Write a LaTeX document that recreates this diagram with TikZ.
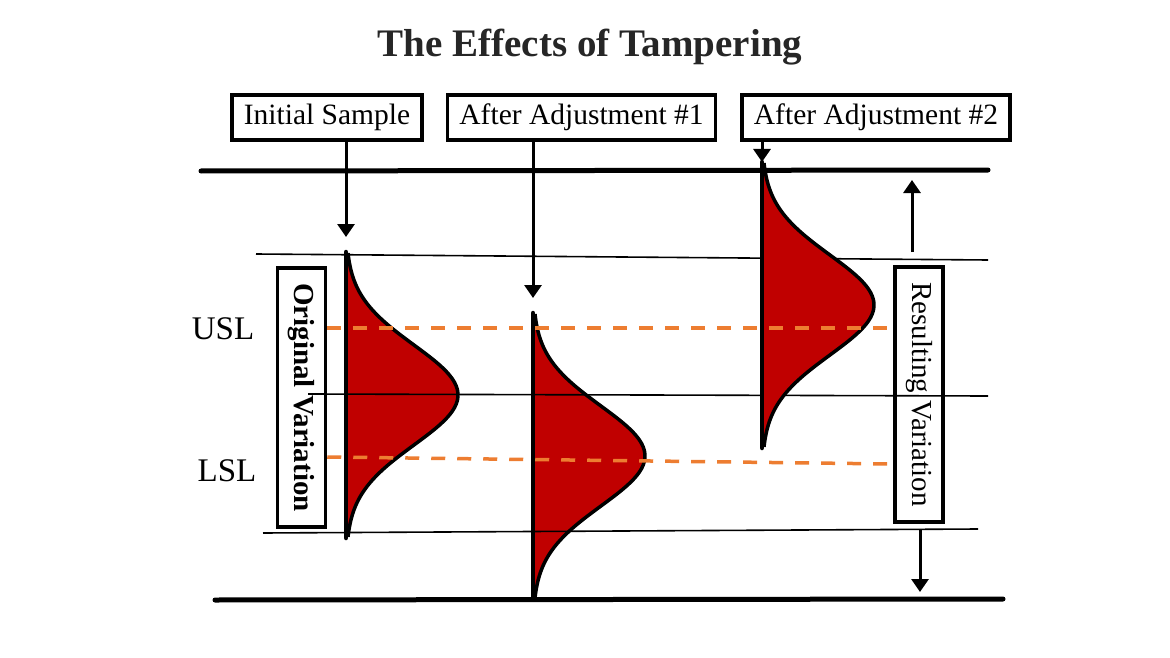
\documentclass[tikz,border=0pt]{standalone}
\usepackage{fontspec}
\setmainfont{Liberation Serif}
\usepackage{xcolor}
\usetikzlibrary{arrows.meta}
\definecolor{bellred}{HTML}{C00000}
\definecolor{limitorange}{HTML}{ED7D31}
\definecolor{titlegray}{HTML}{262626}

% half bell curve standing on a vertical axis: base x, mean y, name of top point
\newcommand{\bellcurve}[3]{%
  \fill[bellred] (#1,#2-142) -- plot[domain=-2.84:2.84, samples=80]
    ({#1+112*exp(-0.5*(\x)*(\x))}, {#2+50*\x}) -- (#1,#2+142) -- cycle;
  \draw[bellout] plot[domain=-2.84:2.84, samples=80]
    ({#1+112*exp(-0.5*(\x)*(\x))}, {#2+50*\x});
  \draw[bellaxis] (#1,#2-143) -- (#1,#2+143);
  \coordinate (#3) at (#1,#2-142);
}

\begin{document}
\begin{tikzpicture}[x=1pt, y=-1pt,
  hbox/.style={draw, line width=3.5pt, minimum height=45pt, inner xsep=12pt, font=\fontsize{29.5}{34}\selectfont},
  vbox/.style={draw, line width=3.5pt, rotate=-90, minimum height=48pt, font=\fontsize{29}{34}\selectfont},
  lim/.style={font=\fontsize{33}{38}\selectfont},
  thickline/.style={line width=5pt, line cap=round},
  thinline/.style={line width=1.6pt},
  limline/.style={limitorange, line width=3.5pt, dash pattern=on 14pt off 12pt},
  bellout/.style={line width=3.5pt},
  bellaxis/.style={line width=4.5pt, line cap=round},
  arr/.style={-{Triangle[width=17pt, length=13pt]}, line width=3pt}
]
\useasboundingbox (0,0) rectangle (1170,658);

\node[font=\bfseries\fontsize{39}{46}\selectfont, text=titlegray] (title) at (590,47) {The Effects of Tampering};

% spec and process limits
\draw[thickline] (201,171) -- (988,170);
\draw[thickline] (215,600) -- (1003,599);

\node[hbox] (initbox) at (327,117.5) {Initial Sample};
\node[hbox] (adj1box) at (581.5,117.5) {After Adjustment \#1};
\node[hbox] (adj2box) at (876,117.5) {After Adjustment \#2};

\node[lim] (usl) at (223,329) {USL};
\node[lim] (lsl) at (227,471) {LSL};

\node[vbox, font=\bfseries\fontsize{29}{34}\selectfont, minimum width=259pt] (origvar) at (301.5,397.5) {Original Variation};
\node[vbox, minimum width=255pt] (resvar) at (919,394.5) {Resulting Variation};

\bellcurve{346}{395}{c1}
\bellcurve{533}{456}{c2}

\draw[thinline] (256,254) -- (988,260);
\draw[thinline] (308,394) -- (988,396);
\draw[thinline] (263,533) -- (978,529);

\bellcurve{762}{305}{c3}

\draw[limline] (origvar.north |- 0,328) -- (resvar.south |- 0,328);
\draw[limline] (origvar.north |- 0,457) -- (resvar.south |- 0,464);

\draw[arr] (initbox.south -| c1) -- ([yshift=16pt]c1);
\draw[arr] (adj1box.south -| c2) -- ([yshift=16pt]c2);
\draw[arr] (adj2box.south -| c3) -- ([yshift=1pt]c3);

\coordinate (upfrom) at (912,252);
\coordinate (upto) at (912,180);
\coordinate (downfrom) at (920,529);
\coordinate (downto) at (920,592);
\draw[arr] (upfrom) -- (upto);
\draw[arr] (downfrom) -- (downto);
\end{tikzpicture}
\end{document}
